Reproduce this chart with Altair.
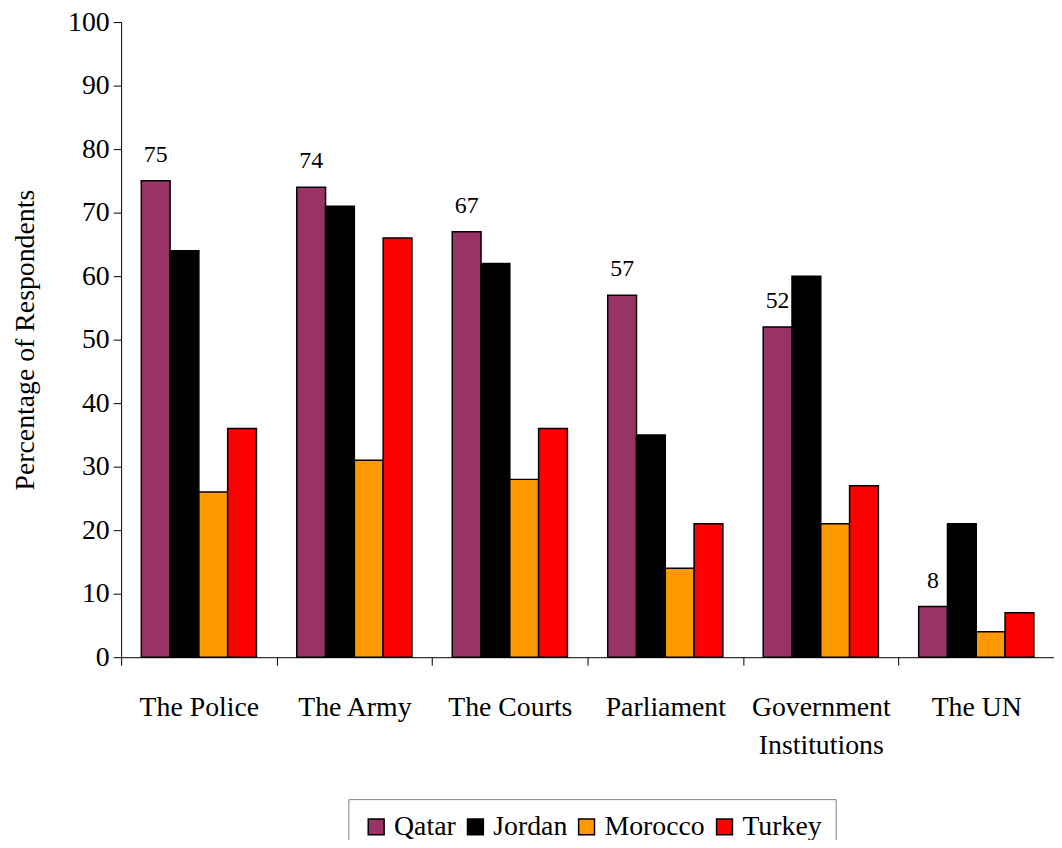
import altair as alt
import pandas as pd

institutions = ["The Police", "The Army", "The Courts", "Parliament", "Government Institutions", "The UN"]
countries = ["Qatar", "Jordan", "Morocco", "Turkey"]
qatar = [75, 74, 67, 57, 52, 8]
jordan = [64, 71, 62, 35, 60, 21]
morocco = [26, 31, 28, 14, 21, 4]
turkey = [36, 66, 36, 21, 27, 7]
colors = ["#993366", "#000000", "#FF9900", "#FF0000"]

rows = []
for i, inst in enumerate(institutions):
    for c, vals in zip(countries, [qatar, jordan, morocco, turkey]):
        rows.append({"Institution": inst, "Country": c, "Value": vals[i]})
df = pd.DataFrame(rows)

FONT = "Liberation Serif"
FS = 28

x_enc = alt.X(
    "Institution:N",
    sort=institutions,
    scale=alt.Scale(paddingInner=0, paddingOuter=0),
    axis=alt.Axis(
        title=None,
        labelAngle=0,
        labelFont=FONT,
        labelFontSize=FS,
        labelColor="black",
        labelPadding=29,
        labelExpr="datum.label == 'Government Institutions' ? ['Government', 'Institutions'] : datum.label",
        labelLineHeight=38,
        tickBand="extent",
        tickSize=8,
        tickColor="black",
        domainColor="black",
        labelBaseline="top",
    ),
)
xoff = alt.XOffset(
    "Country:N",
    sort=countries,
    scale=alt.Scale(domain=countries, paddingInner=0, paddingOuter=0.7),
)

bars = alt.Chart(df).mark_bar(stroke="black", strokeWidth=1.5).encode(
    x=x_enc,
    xOffset=xoff,
    y=alt.Y(
        "Value:Q",
        scale=alt.Scale(domain=[0, 100]),
        axis=alt.Axis(
            title="Percentage of Respondents",
            titleFont=FONT,
            titleFontSize=FS,
            titleFontWeight="normal",
            titleColor="black",
            titlePadding=28,
            values=list(range(0, 101, 10)),
            labelFont=FONT,
            labelFontSize=FS,
            labelColor="black",
            labelPadding=4,
            tickSize=8,
            tickColor="black",
            domainColor="black",
            grid=False,
        ),
    ),
    color=alt.Color(
        "Country:N",
        sort=countries,
        scale=alt.Scale(domain=countries, range=colors),
        legend=alt.Legend(
            title=None,
            orient="none",
            legendX=229,
            legendY=783,
            direction="horizontal",
            symbolType="square",
            symbolSize=256,
            symbolStrokeColor="black",
            symbolStrokeWidth=1.5,
            symbolOpacity=1,
            labelFont=FONT,
            labelFontSize=FS,
            labelColor="black",
            labelOffset=4,
            columnPadding=5,
            strokeColor="#808080",
            padding=14,
        ),
    ),
)

labels = alt.Chart(df).transform_filter(alt.datum.Country == "Qatar").mark_text(
    font=FONT, fontSize=24, color="black", baseline="bottom", dy=-14
).encode(
    x=alt.X("Institution:N", sort=institutions),
    xOffset=xoff,
    y="Value:Q",
    text="Value:Q",
)

chart = (
    alt.layer(bars, labels)
    .properties(
        width=940,
        height=640,
        autosize=alt.AutoSizeParams(type="none"),
        padding={"left": 114, "top": 11, "right": 0, "bottom": 181},
        background="white",
    )
    .configure(font=FONT)
    .configure_view(stroke=None)
    .configure_legend(labelFont=FONT, labelFontSize=FS, labelColor="black")
)

chart.save("out.html", embed_options={"renderer": "svg", "actions": False})
